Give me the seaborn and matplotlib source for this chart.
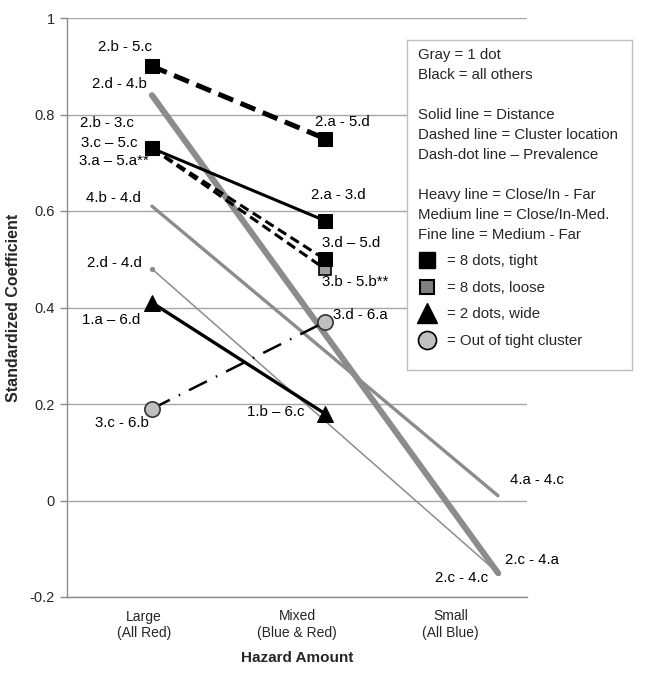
import numpy as np
import pandas as pd
import matplotlib.pyplot as plt
import seaborn as sns

# categories on the x axis
categories = ["Large\n(All Red)", "Mixed\n(Blue & Red)", "Small\n(All Blue)"]

# series values (None = no point at that category)
heavy_dash_black = [0.90, 0.75, None]
heavy_gray = [0.84, None, -0.15]
medium_black = [0.73, 0.58, None]
medium_dash_black = [0.73, 0.50, None]
medium_dash_gray_sq = [0.73, 0.48, None]
medium_gray = [0.61, None, 0.01]
fine_gray = [0.48, None, -0.15]
triangle_black = [0.41, 0.18, None]
dashdot_circle = [0.19, 0.37, None]

# point labels per series (start, end)
point_labels = {
    "heavy_dash_black": ["2.b - 5.c", "2.a - 5.d"],
    "heavy_gray": ["2.d - 4.b", "2.c - 4.a"],
    "medium_black": ["2.b - 3.c", "2.a - 3.d"],
    "medium_dash_black": ["3.c \u2013 5.c", "3.d \u2013 5.d"],
    "medium_dash_gray_sq": ["3.a \u2013 5.a**", "3.b - 5.b**"],
    "medium_gray": ["4.b - 4.d", "4.a - 4.c"],
    "fine_gray": ["2.d - 4.d", "2.c - 4.c"],
    "triangle_black": ["1.a \u2013 6.d", "1.b \u2013 6.c"],
    "dashdot_circle": ["3.c - 6.b", "3.d - 6.a"],
}

legend_lines = [
    "Gray = 1 dot", "Black = all others", "",
    "Solid line = Distance", "Dashed line = Cluster location",
    "Dash-dot line \u2013 Prevalence", "",
    "Heavy line = Close/In - Far", "Medium line = Close/In-Med.",
    "Fine line = Medium - Far",
]
marker_legend = ["= 8 dots, tight", "= 8 dots, loose", "= 2 dots, wide",
                 "= Out of tight cluster"]

series = {
    "heavy_dash_black": heavy_dash_black,
    "heavy_gray": heavy_gray,
    "medium_black": medium_black,
    "medium_dash_black": medium_dash_black,
    "medium_dash_gray_sq": medium_dash_gray_sq,
    "medium_gray": medium_gray,
    "fine_gray": fine_gray,
    "triangle_black": triangle_black,
    "dashdot_circle": dashdot_circle,
}

rows = []
for name, vals in series.items():
    for i, v in enumerate(vals):
        if v is not None:
            rows.append({"series": name, "pos": i, "value": v})
df = pd.DataFrame(rows)

GRAY = "#8c8c8c"
styles = {
    "heavy_gray": dict(color=GRAY, lw=4.4, ls="-"),
    "medium_gray": dict(color=GRAY, lw=2.4, ls="-"),
    "fine_gray": dict(color=GRAY, lw=1.1, ls="-", marker="o", ms=3, mec=GRAY, mfc=GRAY),
    "medium_dash_gray_sq": dict(color="black", lw=2.2, ls=(0, (3.2, 1.7)), marker="s", ms=9,
                                mfc="#a0a0a0", mec="black", mew=1.2),
    "medium_dash_black": dict(color="black", lw=2.2, ls=(0, (3.2, 1.7)), marker="s", ms=9.5,
                              mfc="black", mec="black"),
    "heavy_dash_black": dict(color="black", lw=3.6, ls=(0, (3.2, 1.6)), marker="s", ms=9.5,
                             mfc="black", mec="black"),
    "medium_black": dict(color="black", lw=2.2, ls="-", marker="s", ms=9.5,
                         mfc="black", mec="black"),
    "triangle_black": dict(color="black", lw=2.4, ls="-", marker="^", ms=11,
                           mfc="black", mec="black"),
    "dashdot_circle": dict(color="black", lw=1.8, ls=(0, (8, 4, 0.6, 4)), marker="o",
                           ms=11, mfc="#bfbfbf", mec="#333333", mew=1.2),
}

# label offsets in pixels (dx, dy) for start and end labels
label_offsets = {
    "heavy_dash_black": [(-27, 19), (17, 17)],
    "heavy_gray": [(-33, 11), (34, 13)],
    "medium_black": [(-45, 25), (13, 26)],
    "medium_dash_black": [(-43, 5), (26, 16)],
    "medium_dash_gray_sq": [(-38, -13), (30, -13)],
    "medium_gray": [(-39, 8), (39, 16)],
    "fine_gray": [(-38, 6), (-36, -5)],
    "triangle_black": [(-41, -17), (-49, 2)],
    "dashdot_circle": [(-30, -14), (35, 7)],
}

sns.set_style("white")
plt.rcParams["font.family"] = ["Liberation Sans", "DejaVu Sans"]

fig = plt.figure(figsize=(6.46, 6.75), dpi=100)
ax = fig.add_axes([67 / 646, 1 - 597 / 675, 460 / 646, 579 / 675])

order = ["heavy_gray", "medium_gray", "fine_gray", "dashdot_circle", "triangle_black",
         "medium_black", "medium_dash_gray_sq", "medium_dash_black", "heavy_dash_black"]
for name in order:
    st = dict(styles[name])
    ls = st.pop("ls")
    sub = df[df["series"] == name]
    sns.lineplot(data=sub, x="pos", y="value", ax=ax, linestyle=ls, zorder=3, **st)
    for (_, r), (dx, dy) in zip(sub.iterrows(), label_offsets[name]):
        ax.annotate(point_labels[name][0 if r["pos"] == 0 else 1], (r["pos"], r["value"]),
                    xytext=(dx, dy), textcoords="offset pixels", ha="center", va="center",
                    fontsize=10.8, color="black", zorder=5)

# category axis: the data were overlaid slightly offset from the category centres
xlim = (-0.491, 2.168)
ax.set_xlim(*xlim)
width = (xlim[1] - xlim[0]) / len(categories)
ax.set_xticks([xlim[0] + (k + 0.5) * width for k in range(len(categories))])
ax.set_xticklabels(categories, fontsize=10)
ax.tick_params(axis="x", length=0, pad=9)

ax.set_ylim(-0.2, 1.0)
yt = np.arange(-0.2, 1.01, 0.2)
ax.set_yticks(yt)
ax.set_yticklabels(["%g" % round(v, 1) for v in yt], fontsize=10.5)
ax.tick_params(axis="y", length=5, width=1, color="#8c8c8c", direction="out", pad=4, left=True)
ax.yaxis.grid(True, color="#a6a6a6", lw=1)
ax.set_axisbelow(True)
for side in ["top", "right"]:
    ax.spines[side].set_visible(False)
for side in ["left", "bottom"]:
    ax.spines[side].set_color("#8c8c8c")
    ax.spines[side].set_linewidth(1)

ax.set_xlabel("Hazard Amount", fontsize=11, fontweight="bold", labelpad=8)
ax.set_ylabel("Standardized Coefficient", fontsize=11.5, fontweight="bold", labelpad=6)

# key box (drawn in pixel coordinates of the box)
lax = fig.add_axes([407 / 646, 1 - 370 / 675, 225 / 646, 330 / 675])
lax.set_xlim(0, 225)
lax.set_ylim(330, 0)
lax.set_xticks([])
lax.set_yticks([])
for s in lax.spines.values():
    s.set_color("#bfbfbf")
    s.set_linewidth(1)
for i, t in enumerate(legend_lines):
    lax.text(11, 15 + 20 * i, t, fontsize=10.8, va="center", ha="left")
marker_styles = [
    dict(marker="s", ms=11, mfc="black", mec="black"),
    dict(marker="s", ms=10, mfc="#808080", mec="black", mew=1.5),
    dict(marker="^", ms=14, mfc="black", mec="black"),
    dict(marker="o", ms=13, mfc="#bfbfbf", mec="black", mew=1.2),
]
for i, (t, ms) in enumerate(zip(marker_legend, marker_styles)):
    y = 220 + 26.5 * i
    lax.plot([20], [y], ls="none", **ms)
    lax.text(40, y + 1, t, fontsize=10.8, va="center", ha="left")

fig.savefig("out.png", dpi=100)
